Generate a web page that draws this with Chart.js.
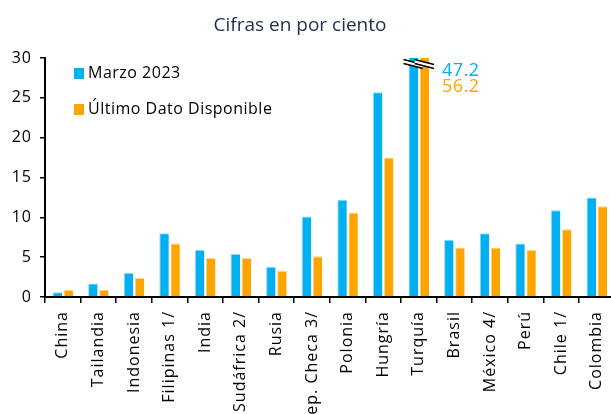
<!DOCTYPE html>
<html>
<head>
<meta charset="utf-8">
<script src="https://cdn.jsdelivr.net/npm/chart.js@4.4.0/dist/chart.umd.min.js"></script>
<style>
  html, body { margin: 0; padding: 0; overflow: hidden; background: #fff; }
  #wrap { position: relative; width: 624px; height: 414px; }
</style>
</head>
<body>
<div id="wrap"><canvas id="inflChart"></canvas></div>
<script>
// Datos
const categorias = ['China', 'Tailandia', 'Indonesia', 'Filipinas 1/', 'India', 'Sudáfrica 2/', 'Rusia',
  'Rep. Checa 3/', 'Polonia', 'Hungría', 'Turquía', 'Brasil', 'México 4/', 'Perú', 'Chile 1/', 'Colombia'];
const marzo2023 = [0.6, 1.7, 3.0, 8.0, 5.9, 5.4, 3.8, 10.1, 12.2, 25.7, 47.2, 7.2, 8.0, 6.7, 10.9, 12.5];
const ultimoDato = [0.9, 0.9, 2.4, 6.7, 4.9, 4.9, 3.3, 5.1, 10.6, 17.5, 56.2, 6.2, 6.2, 5.9, 8.5, 11.4];
const yTicks = [0, 5, 10, 15, 20, 25, 30];
const corte = 'Turquía'; // barra que sale del eje

const AZUL = '#00B0F0';
const NARANJA = '#FFA500';
const FONT = '"Open Sans", "Noto Sans", sans-serif';

// espaciado de letras parecido al original
const spacingPlugin = {
  id: 'spacing',
  beforeLayout(chart) { chart.ctx.letterSpacing = '1px'; },
  beforeDraw(chart) { chart.ctx.letterSpacing = '1px'; }
};

// subtitulo
const subtitlePlugin = {
  id: 'subtitle2',
  afterDraw(chart) {
    const ctx = chart.ctx;
    ctx.save();
    ctx.letterSpacing = '0px';
    ctx.font = '19px ' + FONT;
    ctx.fillStyle = '#1F2D4D';
    ctx.textAlign = 'center';
    ctx.textBaseline = 'alphabetic';
    ctx.fillText('Cifras en por ciento', 300, 31);
    ctx.restore();
  }
};

// leyenda dentro del area
const legendPlugin = {
  id: 'legendBox',
  afterDraw(chart) {
    const ctx = chart.ctx;
    const a = chart.chartArea;
    ctx.save();
    ctx.letterSpacing = '0.5px';
    ctx.font = '16px ' + FONT;
    ctx.textBaseline = 'middle';
    ctx.fillStyle = '#000';
    chart.data.datasets.forEach((ds, i) => {
      const y = a.top + 15 + i * 36;
      ctx.fillStyle = ds.backgroundColor;
      ctx.fillRect(a.left + 29, y - 5, 10, 11);
      ctx.fillStyle = '#000';
      ctx.fillText(ds.label, a.left + 43, y);
    });
    ctx.restore();
  }
};

// marcas de corte y valores reales para Turquia
const breakPlugin = {
  id: 'breakMarks',
  afterDatasetsDraw(chart) {
    const idx = categorias.indexOf(corte);
    const ctx = chart.ctx;
    const top = chart.chartArea.top;
    const cols = [AZUL, NARANJA];
    let rightEdge = 0;
    ctx.save();
    chart.data.datasets.forEach((ds, i) => {
      const bar = chart.getDatasetMeta(i).data[idx];
      const x0 = bar.x - bar.width / 2 - 5;
      const x1 = bar.x + bar.width / 2 + 5;
      rightEdge = Math.max(rightEdge, x1);
      ctx.strokeStyle = '#fff';
      ctx.lineWidth = 3;
      ctx.beginPath();
      ctx.moveTo(x0, top + 3.5);
      ctx.lineTo(x1, top + 8.5);
      ctx.stroke();
      ctx.strokeStyle = '#000';
      ctx.lineWidth = 1.6;
      [0, 4].forEach(d => {
        ctx.beginPath();
        ctx.moveTo(x0, top + 1.5 + d);
        ctx.lineTo(x1, top + 6.5 + d);
        ctx.stroke();
      });
    });
    ctx.letterSpacing = '0.5px';
    ctx.font = '18px ' + FONT;
    ctx.textAlign = 'left';
    ctx.textBaseline = 'alphabetic';
    chart.data.datasets.forEach((ds, i) => {
      ctx.fillStyle = cols[i];
      ctx.fillText(ds.data[idx].toFixed(1), rightEdge + 8, top + 18 + i * 16);
    });
    ctx.restore();
  }
};

new Chart(document.getElementById('inflChart'), {
  type: 'bar',
  data: {
    labels: categorias,
    datasets: [
      { label: 'Marzo 2023', data: marzo2023, backgroundColor: AZUL, borderColor: '#8AD9F7', borderWidth: { left: 1, top: 1 } },
      { label: 'Último Dato Disponible', data: ultimoDato, backgroundColor: NARANJA, borderColor: '#FFD690', borderWidth: { left: 1, top: 1 } }
    ]
  },
  options: {
    responsive: true,
    maintainAspectRatio: false,
    animation: false,
    categoryPercentage: 0.62,
    barPercentage: 0.86,
    layout: { padding: { top: 58, right: 1, left: 0, bottom: 0 } },
    plugins: { legend: { display: false }, tooltip: { enabled: false } },
    scales: {
      x: {
        grid: { display: true, drawOnChartArea: false, offset: true, color: '#000', lineWidth: 1.5, tickLength: 6 },
        border: { display: true, color: '#000', width: 2 },
        ticks: { color: '#000', font: { family: FONT, size: 16 }, minRotation: 90, maxRotation: 90, padding: 8, autoSkip: false },
        afterFit(scale) { scale.height = 117; }
      },
      y: {
        min: yTicks[0],
        max: yTicks[yTicks.length - 1],
        afterBuildTicks(scale) { scale.ticks = yTicks.map(v => ({ value: v })); },
        grid: { display: true, drawOnChartArea: false, color: '#000', lineWidth: 1.5, tickLength: 5 },
        border: { display: true, color: '#000', width: 2 },
        ticks: { color: '#000', font: { family: FONT, size: 16 }, padding: 8 },
        afterFit(scale) { scale.width = 45; }
      }
    }
  },
  plugins: [spacingPlugin, subtitlePlugin, legendPlugin, breakPlugin]
});
</script>
</body>
</html>
